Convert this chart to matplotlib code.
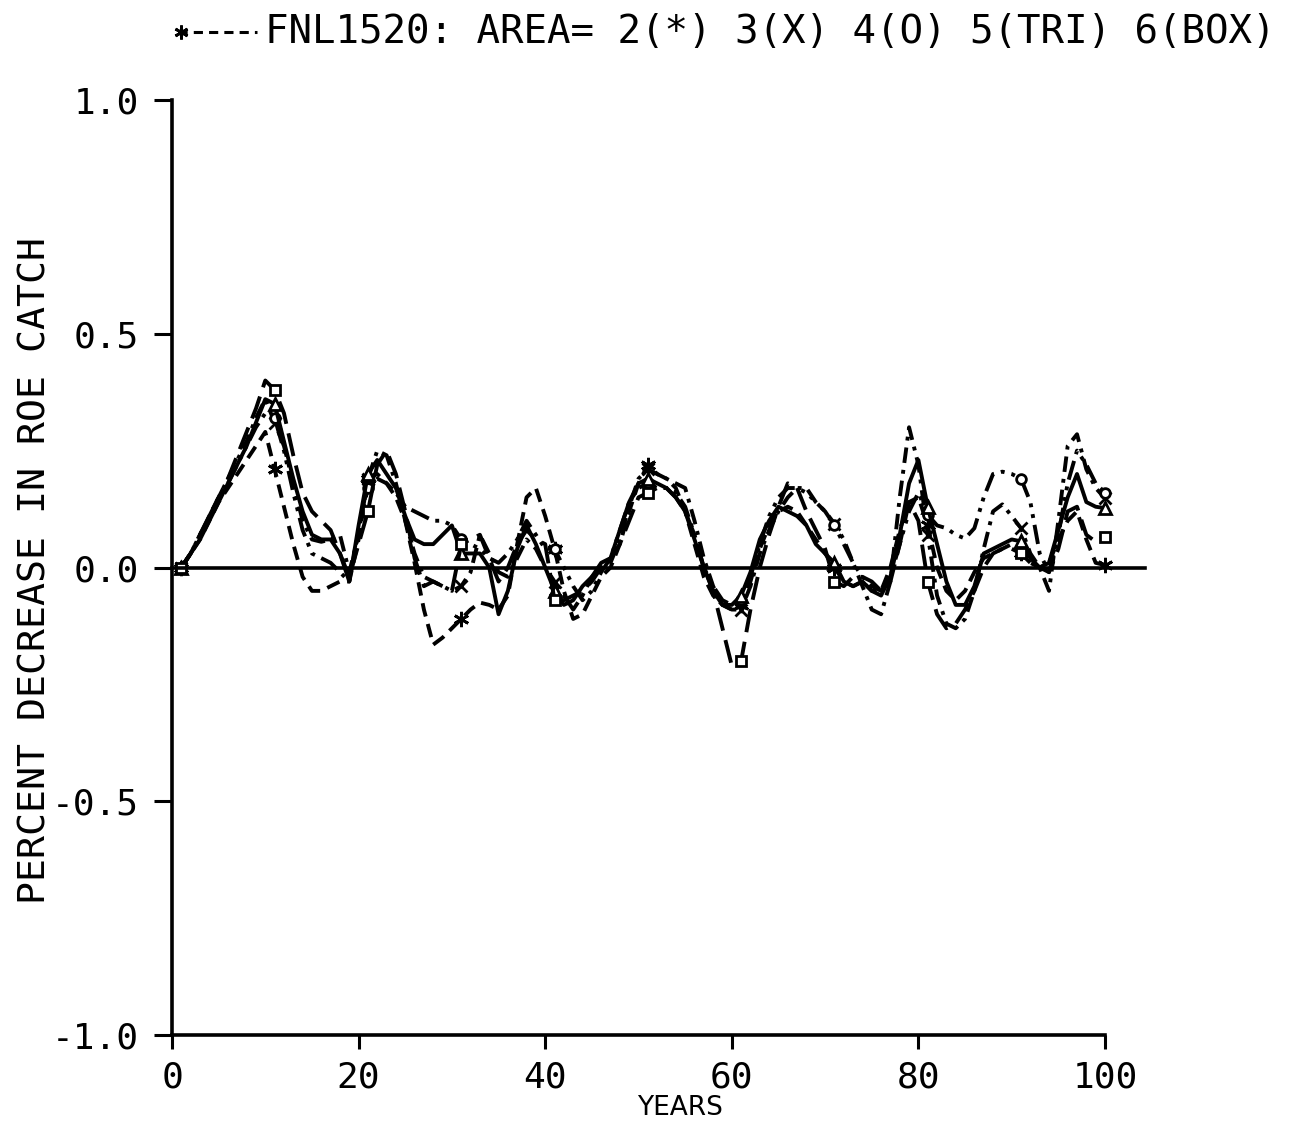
import numpy as np
import matplotlib.pyplot as plt
from matplotlib.lines import Line2D

# Annual simulation output, years 1..100
years = np.arange(1, 101)

# AREA 2 (*)
area2 = [0.00, 0.03, 0.06, 0.10, 0.14, 0.17, 0.20, 0.23, 0.26, 0.29,
         0.21, 0.13, 0.05, -0.02, -0.05, -0.05, -0.04, -0.03, -0.03, 0.06,
         0.19, 0.20, 0.18, 0.15, 0.10, 0.01, -0.09, -0.165, -0.15, -0.13,
         -0.11, -0.09, -0.075, -0.08, -0.09, -0.06, 0.05, 0.15, 0.17, 0.11,
         0.04, -0.05, -0.11, -0.10, -0.06, -0.02, 0.00, 0.05, 0.12, 0.18,
         0.22, 0.20, 0.19, 0.17, 0.12, 0.05, -0.02, -0.06, -0.08, -0.09,
         -0.08, -0.03, 0.04, 0.09, 0.12, 0.13, 0.12, 0.09, 0.06, 0.03,
         0.00, -0.03, -0.04, -0.03, -0.05, -0.05, 0.00, 0.08, 0.14, 0.15,
         0.09, 0.00, -0.05, -0.07, -0.05, -0.01, 0.02, 0.03, 0.04, 0.05,
         0.03, 0.01, 0.00, 0.01, 0.06, 0.10, 0.12, 0.06, 0.01, 0.005]

# AREA 3 (X)
area3 = [0.00, 0.03, 0.07, 0.11, 0.15, 0.19, 0.23, 0.27, 0.32, 0.36,
         0.31, 0.26, 0.18, 0.10, 0.06, 0.055, 0.06, 0.07, -0.01, 0.07,
         0.19, 0.25, 0.24, 0.18, 0.10, 0.03, -0.02, -0.03, -0.04, -0.05,
         -0.04, -0.01, 0.07, 0.03, -0.01, -0.02, 0.02, 0.06, 0.04, 0.00,
         -0.03, -0.06, -0.09, -0.06, -0.02, 0.00, 0.01, 0.06, 0.13, 0.19,
         0.21, 0.20, 0.19, 0.18, 0.17, 0.10, 0.02, -0.04, -0.08, -0.09,
         -0.09, -0.04, 0.03, 0.08, 0.12, 0.15, 0.17, 0.17, 0.14, 0.12,
         0.094, 0.06, 0.01, -0.04, -0.09, -0.10, -0.03, 0.15, 0.30, 0.22,
         0.07, -0.06, -0.12, -0.13, -0.11, -0.05, 0.04, 0.12, 0.135, 0.11,
         0.084, 0.03, 0.00, -0.05, 0.10, 0.26, 0.285, 0.21, 0.17, 0.148]

# AREA 4 (O)
area4 = [0.00, 0.03, 0.07, 0.11, 0.15, 0.18, 0.22, 0.26, 0.30, 0.33,
         0.32, 0.25, 0.16, 0.08, 0.03, 0.02, 0.01, -0.01, -0.03, 0.08,
         0.17, 0.19, 0.18, 0.16, 0.13, 0.12, 0.11, 0.10, 0.10, 0.09,
         0.06, 0.05, 0.04, 0.02, 0.01, 0.03, 0.06, 0.10, 0.07, 0.04,
         0.04, 0.00, -0.04, -0.07, -0.05, -0.01, 0.02, 0.08, 0.14, 0.17,
         0.18, 0.17, 0.17, 0.16, 0.13, 0.07, 0.00, -0.04, -0.07, -0.08,
         -0.07, -0.02, 0.05, 0.11, 0.15, 0.17, 0.17, 0.16, 0.14, 0.12,
         0.09, 0.05, 0.01, -0.02, -0.04, -0.05, -0.02, 0.05, 0.12, 0.16,
         0.113, 0.09, 0.084, 0.07, 0.062, 0.084, 0.15, 0.20, 0.205, 0.20,
         0.19, 0.14, 0.03, -0.01, 0.07, 0.18, 0.25, 0.22, 0.18, 0.16]

# AREA 5 (TRI)
area5 = [0.00, 0.03, 0.06, 0.10, 0.14, 0.18, 0.22, 0.26, 0.31, 0.36,
         0.35, 0.27, 0.19, 0.12, 0.07, 0.06, 0.06, 0.03, -0.03, 0.09,
         0.20, 0.23, 0.20, 0.17, 0.11, 0.06, 0.05, 0.05, 0.07, 0.09,
         0.03, 0.03, 0.03, 0.00, -0.10, -0.05, 0.04, 0.09, 0.05, 0.00,
         -0.05, -0.08, -0.07, -0.04, -0.02, 0.01, 0.02, 0.08, 0.14, 0.18,
         0.19, 0.18, 0.17, 0.15, 0.12, 0.06, 0.00, -0.05, -0.08, -0.08,
         -0.06, -0.01, 0.06, 0.10, 0.13, 0.12, 0.11, 0.09, 0.05, 0.03,
         0.01, -0.03, -0.04, -0.03, -0.05, -0.06, -0.02, 0.07, 0.18, 0.23,
         0.13, 0.05, -0.03, -0.08, -0.08, -0.04, 0.03, 0.04, 0.05, 0.06,
         0.056, 0.02, 0.00, 0.01, 0.08, 0.15, 0.20, 0.14, 0.13, 0.127]

# AREA 6 (BOX)
area6 = [0.00, 0.03, 0.07, 0.11, 0.15, 0.19, 0.24, 0.29, 0.34, 0.40,
         0.38, 0.33, 0.24, 0.16, 0.12, 0.10, 0.08, 0.03, -0.02, 0.05,
         0.12, 0.22, 0.25, 0.20, 0.12, 0.02, -0.04, -0.03, -0.04, -0.05,
         0.05, 0.06, 0.07, 0.02, -0.03, 0.00, 0.05, 0.08, 0.06, 0.05,
         -0.07, -0.07, -0.06, -0.05, -0.03, 0.00, 0.02, 0.05, 0.10, 0.15,
         0.16, 0.17, 0.17, 0.15, 0.12, 0.07, 0.00, -0.05, -0.13, -0.21,
         -0.20, -0.09, 0.00, 0.07, 0.13, 0.18, 0.17, 0.12, 0.08, 0.04,
         -0.03, -0.04, -0.02, -0.02, -0.03, -0.05, -0.03, 0.05, 0.14, 0.10,
         -0.03, -0.10, -0.13, -0.12, -0.09, -0.05, 0.00, 0.03, 0.04, 0.04,
         0.03, 0.01, 0.00, -0.01, 0.04, 0.12, 0.13, 0.07, 0.055, 0.066]

yticks = [-1.0, -0.5, 0.0, 0.5, 1.0]
ytick_labels = ["-1.0", "-0.5", "0.0", "0.5", "1.0"]
xticks = [0, 20, 40, 60, 80, 100]
xtick_labels = ["0", "20", "40", "60", "80", "100"]

MONO = "DejaVu Sans Mono"
LW = 2.8
marks = [0, 10, 20, 30, 40, 50, 60, 70, 80, 90, 99]

fig = plt.figure(figsize=(13, 11.21), dpi=100)
ax = fig.add_axes([172 / 1300, 1 - 1035 / 1121, 933 / 1300, 935 / 1121])

styles = [
    (area2, (0, (3.5, 2)), (6, 2, 0), 11),
    (area3, (0, (4, 1.8, 1, 1.8)), "x", 8),
    (area4, (0, (5, 1.8, 1, 1.8, 1, 1.8)), "o", 7),
    (area5, "-", "^", 8),
    (area6, (0, (6, 2.5)), "s", 7),
]
for vals, ls, mk, ms in styles:
    ax.plot(years, vals, color="black", lw=LW, linestyle=ls,
            marker=mk, markersize=ms, markevery=marks,
            markerfacecolor="white", markeredgecolor="black",
            markeredgewidth=2.0, clip_on=False)

# zero reference line runs a bit past the last year
ax.plot([0, 104.3], [0, 0], color="black", lw=2.6, clip_on=False)

ax.set_xlim(0, 100)
ax.set_ylim(-1, 1)
for side in ("top", "right"):
    ax.spines[side].set_visible(False)
for side in ("left", "bottom"):
    ax.spines[side].set_linewidth(2.6)

ax.set_xticks(xticks)
ax.set_xticklabels(xtick_labels, fontfamily=MONO, fontsize=26)
ax.set_yticks(yticks)
ax.set_yticklabels(ytick_labels, fontfamily=MONO, fontsize=26)
ax.tick_params(axis="y", direction="out", length=13, width=2.2, pad=11)
ax.tick_params(axis="x", direction="out", length=10, width=2.2, pad=8)

fig.text(0.027, 0.4915, "PERCENT DECREASE IN ROE CATCH", rotation=90,
         ha="center", va="center", fontfamily=MONO, fontsize=27.5)
fig.text(0.523, 0.012, "YEARS", ha="center", va="center",
         fontfamily="DejaVu Sans", fontsize=19)

# header with its line sample
fig.add_artist(Line2D([178 / 1300, 257 / 1300], [1 - 32 / 1121] * 2,
                      transform=fig.transFigure, color="black", lw=2.2,
                      linestyle=(0, (3, 2))))
fig.add_artist(Line2D([181 / 1300], [1 - 32 / 1121],
                      transform=fig.transFigure, color="black",
                      marker=(6, 2, 0), markersize=10, markeredgewidth=2.0))
fig.text(265 / 1300, 1 - 32 / 1121,
         "FNL1520: AREA= 2(*) 3(X) 4(O) 5(TRI) 6(BOX)",
         ha="left", va="center", fontfamily=MONO, fontsize=28.2)

fig.savefig("out.png", dpi=100, facecolor="white")
